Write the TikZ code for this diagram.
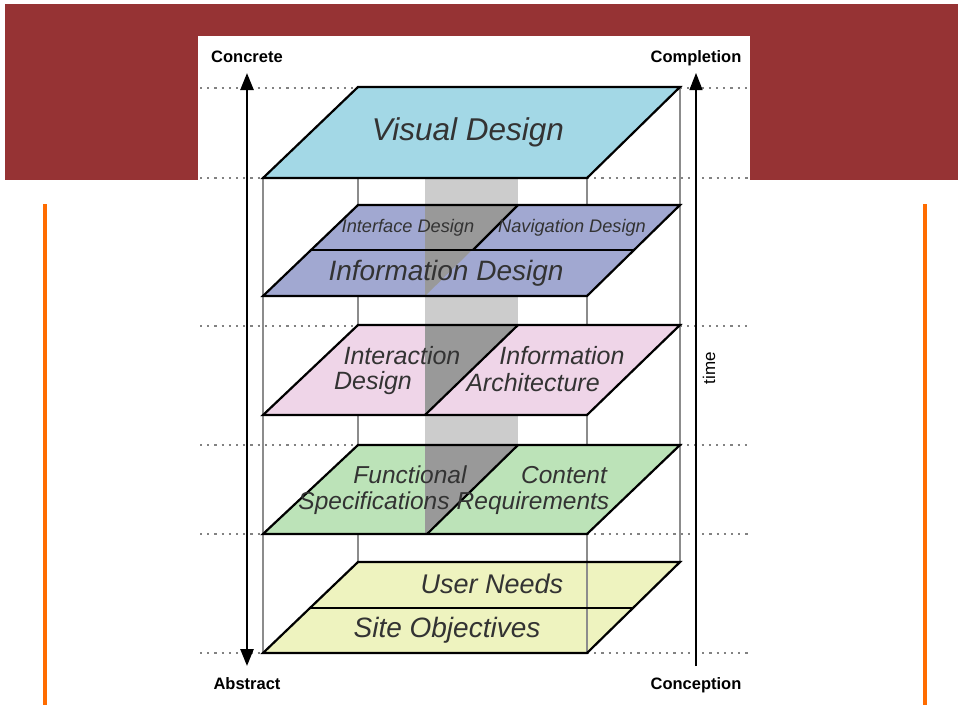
\documentclass[tikz,border=0pt]{standalone}
\usepackage{fontspec}
\setmainfont{Liberation Sans}
\usetikzlibrary{arrows.meta,positioning}
\definecolor{bandred}{RGB}{150,51,52}
\definecolor{barorange}{RGB}{255,108,0}
\definecolor{visualblue}{RGB}{163,216,230}
\definecolor{infoblue}{RGB}{161,168,209}
\definecolor{interpink}{RGB}{239,213,232}
\definecolor{funcgreen}{RGB}{188,227,184}
\definecolor{needsyellow}{RGB}{238,243,191}
\definecolor{darkshade}{RGB}{153,153,153}
\definecolor{lightshade}{RGB}{204,204,204}
\definecolor{framegray}{RGB}{140,140,140}
\definecolor{dotgray}{RGB}{130,130,130}

\tikzset{
  layer/.style={draw=black, line width=2.2pt},
  frame/.style={draw=framegray, line width=1.5pt},
  guide/.style={draw=dotgray, line width=2.2pt, dash pattern=on 2.2pt off 5pt},
  plane/.style={text=black!80, inner sep=0pt, font=\itshape\fontsize{#1}{#1}\selectfont},
  axislabel/.style={font=\bfseries\fontsize{16.5}{18}\selectfont, inner sep=0pt,
    text height=12pt, text depth=0pt, outer sep=11pt},
  head/.tip={Triangle[length=17pt,width=13pt]},
}

\begin{document}
\begin{tikzpicture}[x=1pt,y=-1pt]
  \useasboundingbox (0,0) rectangle (958,705);
  \fill[bandred] (5,4) rectangle (958,180);
  \fill[white] (198,36) rectangle (750,705);
  \fill[barorange] (43,204) rectangle (47,705);
  \fill[barorange] (923,204) rectangle (927,705);

  \foreach \y/\a/\b in {88/358/680, 178/263/587, 326/358/680, 445/358/680, 534/263/587, 653/263/587}
  {
    \path[guide] (200,\y) -- (\a,\y);
    \path[guide] (\b,\y) -- (750,\y);
  }

  \fill[lightshade] (425,178) rectangle (518,445);
  \path[frame] (358,178) -- (358,562);
  \path[frame] (680,87) -- (680,562);
  \path[frame] (263,178) -- (263,653);
  \path[frame] (587,178) -- (587,562);

  \filldraw[layer, fill=visualblue] (358,87) -- (680,87) -- (587,178) -- (263,178) -- cycle;

  \fill[infoblue] (358,205) -- (680,205) -- (587,296) -- (263,296) -- cycle;
  \fill[darkshade] (425,205) -- (518,205) -- (425,296) -- cycle;
  \path[layer] (358,205) -- (680,205) -- (587,296) -- (263,296) -- cycle;
  \path[layer] (311,250) -- (634,250);
  \path[layer] (518,205) -- (473,250);

  \fill[interpink] (358,325) -- (680,325) -- (587,415) -- (263,415) -- cycle;
  \fill[darkshade] (425,325) -- (518,325) -- (425,415) -- cycle;
  \path[layer] (358,325) -- (680,325) -- (587,415) -- (263,415) -- cycle;
  \path[layer] (518,325) -- (425,415);

  \fill[funcgreen] (358,445) -- (680,445) -- (587,534) -- (263,534) -- cycle;
  \fill[darkshade] (425,445) -- (518,445) -- (425,534) -- cycle;
  \path[layer] (358,445) -- (680,445) -- (587,534) -- (263,534) -- cycle;
  \path[layer] (518,445) -- (427,534);

  \fill[needsyellow] (358,562) -- (680,562) -- (587,653) -- (263,653) -- cycle;
  \path[frame] (587,562) -- (587,653);
  \path[layer] (358,562) -- (680,562) -- (587,653) -- (263,653) -- cycle;
  \path[layer] (311,608) -- (634,608);

  \node[plane=31.5] (visual) at (468,132) {Visual Design};
  \node[plane=18.2] (interface) at (408,228) {Interface Design};
  \node[plane=18.2] (navigation) at (572,228) {Navigation Design};
  \node[plane=28] (information) at (446,273) {Information Design};
  \node[plane=25] (interaction1) at (402,356) {Interaction};
  \node[plane=25] (interaction2) at (373,383) {Design};
  \node[plane=25] (infoarch1) at (562,356) {Information};
  \node[plane=25] (infoarch2) at (533,383) {Architecture};
  \node[plane=24.5] (functional1) at (410,475) {Functional};
  \node[plane=24.5] (functional2) at (374,503) {Specifications};
  \node[plane=24.5] (content1) at (564,475) {Content};
  \node[plane=24.5] (content2) at (533,503) {Requirements};
  \node[plane=27] (userneeds) at (492,584) {User Needs};
  \node[plane=28] (siteobj) at (447,630) {Site Objectives};

  \node[axislabel] (concrete) at (247,56) {Concrete};
  \node[axislabel] (abstract) at (247,683) {Abstract};
  \node[axislabel] (completion) at (696,56) {Completion};
  \node[axislabel] (conception) at (696,683) {Conception};
  \node[rotate=90, font=\fontsize{17}{19}\selectfont, inner sep=0pt] (timelabel) at (709,368) {time};

  \path[draw, line width=2.5pt, head-head] (abstract) -- (concrete);
  \path[draw, line width=1.2pt, -head] (conception) -- (completion);
\end{tikzpicture}
\end{document}
